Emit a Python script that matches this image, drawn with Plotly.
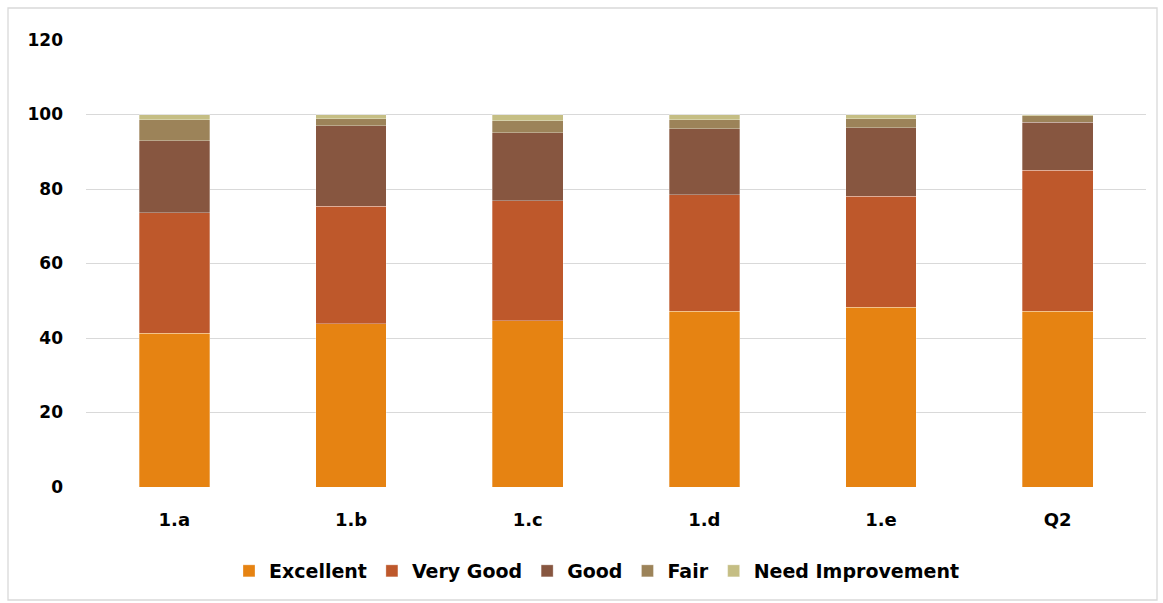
import plotly.graph_objects as go

categories = ["1.a", "1.b", "1.c", "1.d", "1.e", "Q2"]
excellent = [41.3, 43.8, 44.6, 47.2, 48.3, 47.2]
very_good = [32.3, 31.6, 32.2, 31.2, 29.7, 37.9]
good = [19.4, 21.6, 18.3, 17.8, 18.5, 12.8]
fair = [5.6, 1.9, 3.2, 2.4, 2.4, 1.7]
need_improvement = [1.4, 1.1, 1.7, 1.4, 1.1, 0.4]

series_names = ["Excellent", "Very Good", "Good", "Fair", "Need Improvement"]
series_values = [excellent, very_good, good, fair, need_improvement]
colors = ["#E68312", "#BE582B", "#875640", "#9C8359", "#C5BE84"]

fig = go.Figure()
for name, vals, col in zip(series_names, series_values, colors):
    fig.add_trace(go.Bar(
        x=categories, y=vals, name=name,
        marker=dict(color=col, line=dict(color="rgba(255,255,255,0.5)", width=0.6)),
    ))

W, H = 1163, 603
L, R, T, B = 86, 17, 40, 116
pw, ph = W - L - R, H - T - B
FONT = "DejaVu Sans, Verdana, sans-serif"

fig.update_layout(
    barmode="stack",
    bargap=0.6,
    width=W, height=H,
    margin=dict(l=L, r=R, t=T, b=B),
    paper_bgcolor="white",
    plot_bgcolor="white",
    font=dict(family=FONT, size=17, color="black"),
    legend=dict(
        orientation="h", x=(597 - L) / pw, xanchor="center",
        y=(H - B - 571) / ph, yanchor="middle",
        font=dict(size=19, family=FONT, weight="bold"),
        traceorder="normal",
        itemwidth=30,
    ),
    showlegend=True,
)
fig.update_yaxes(
    range=[0, 120], dtick=20,
    showgrid=True, gridcolor="#d9d9d9", gridwidth=1.3,
    zeroline=False, showline=False,
    ticks="", ticklabelstandoff=22,
    tickfont=dict(size=17, weight="bold", family=FONT),
)
fig.update_xaxes(
    showgrid=False, showline=False, zeroline=False,
    ticks="", ticklabelstandoff=20,
    tickfont=dict(size=18, weight="bold", family=FONT),
)

# outer chart border
fig.add_shape(
    type="rect", xref="paper", yref="paper",
    x0=(8 - L) / pw, x1=(1157 - L) / pw,
    y0=(H - B - 600) / ph, y1=(H - B - 8) / ph,
    line=dict(color="#d9d9d9", width=1.3), fillcolor="rgba(0,0,0,0)",
    layer="below",
)

fig.write_html(
    "out.html",
    config={"displayModeBar": False},
    post_script="document.body.style.margin='0';document.body.style.overflow='hidden';",
)
